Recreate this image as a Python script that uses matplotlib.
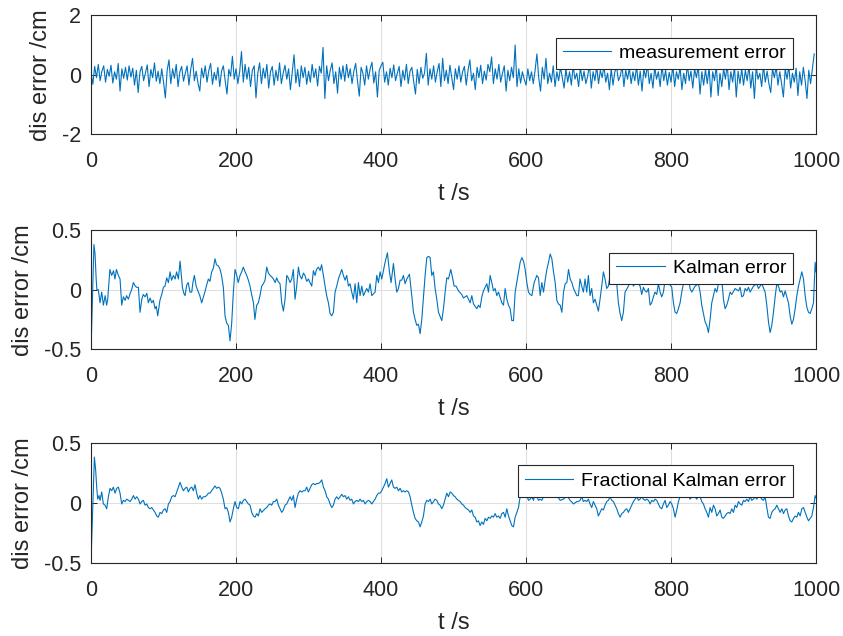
import numpy as np
import matplotlib
matplotlib.use('Agg')
import matplotlib.pyplot as plt

plt.rcParams['font.family'] = ['Liberation Sans', 'DejaVu Sans']

meas_e = [
    0.05, -0.32, 0.28, -0.1, 0.35, -0.2, 0.12, 0.3, -0.25, 0.18, -0.05, 0.32, -0.28, 0.1, -0.15, 0.38, -0.55, 0.2, -0.12, 0.25,
    -0.18, 0.3, -0.08, 0.22, -0.35, 0.15, -0.6, 0.1, 0.28, -0.2, 0.05, 0.33, -0.4, 0.18, -0.1, 0.4, -0.22, 0.12, -0.3, 0.2,
    -0.25, -0.78, 0.15, 0.5, -0.3, 0.2, -0.12, 0.35, -0.4, 0.1, 0.28, -0.22, 0.05, 0.3, -0.35, 0.18, 0.55, -0.2, 0.12, -0.28,
    -0.55, 0.22, -0.1, 0.3, -0.25, 0.15, 0.38, -0.32, 0.08, -0.18, 0.25, -0.4, 0.12, 0.3, -0.2, -0.65, 0.18, -0.05, 0.62, -0.15,
    0.2, -0.3, 0.1, 0.78, -0.25, 0.35, -0.15, 0.25, -0.4, 0.15, 0.3, -0.78, 0.05, 0.4, -0.3, 0.22, -0.12, 0.35, -0.45, 0.1,
    0.28, -0.35, 0.15, -0.2, 0.4, -0.3, 0.05, 0.32, -0.15, 0.2, -0.5, 0.1, 0.67, -0.28, 0.18, -0.4, 0.3, -0.1, 0.25, -0.32,
    0.12, -0.25, 0.35, -0.1, 0.2, -0.38, 0.28, 0.05, 0.92, -0.8, 0.3, -0.2, 0.15, 0.4, -0.3, 0.1, -0.62, 0.25, -0.15, 0.3,
    -0.22, 0.35, -0.1, 0.2, -0.3, 0.12, 0.38, -0.2, -0.72, 0.25, 0.05, -0.35, 0.3, -0.15, 0.2, 0.42, -0.28, 0.1, -0.75, 0.15,
    0.3, 0.42, -0.25, 0.1, -0.35, 0.22, -0.1, 0.33, -0.2, 0.05, 0.28, -0.4, 0.15, -0.18, 0.35, -0.3, 0.12, 0.25, -0.22, -0.65,
    0.18, -0.3, 0.25, -0.12, 0.05, 0.72, -0.35, 0.2, -0.15, 0.3, -0.25, 0.1, 0.38, -0.4, 0.55, -0.2, 0.15, -0.3, 0.32, -0.1,
    -0.5, 0.2, -0.15, 0.3, -0.25, 0.1, 0.28, -0.35, 0.15, 0.5, -0.2, 0.05, -0.5, 0.25, -0.1, 0.32, -0.3, 0.12, -0.18, 0.35,
    0.1, 0.6, -0.3, 0.2, -0.15, 0.35, -0.25, 0.05, 0.3, -0.55, 0.15, -0.2, 0.25, -0.1, 1.0, -0.4, 0.2, -0.28, 0.1, -0.15,
    -0.35, 0.2, -0.2, 0.1, -0.3, 0.15, 0.7, -0.1, -0.55, 0.25, -0.15, 0.55, -0.3, 0.05, -0.25, 0.3, -0.4, 0.1, -0.2, 0.25,
    -0.1, -0.45, 0.2, -0.25, 0.1, -0.35, 0.3, -0.15, 0.05, -0.4, 0.25, -0.2, 0.12, -0.3, -0.05, 0.35, -0.45, 0.1, -0.2, 0.28,
    -0.3, 0.15, -0.1, 0.3, -0.25, 0.05, -0.5, 0.2, -0.35, 0.1, 0.25, -0.2, -0.05, 0.3, -0.4, 0.15, -0.15, 0.22, -0.3, 0.1,
    -0.2, 0.28, -0.35, 0.12, -0.55, 0.2, -0.1, 0.35, -0.3, 0.05, -0.45, 0.25, -0.15, 0.1, -0.4, 0.3, -0.2, 0.15, -0.35, 0.08,
    -0.25, 0.3, -0.4, 0.1, -0.15, 0.25, -0.5, 0.05, -0.3, 0.35, -0.2, 0.12, -0.45, 0.2, -0.1, 0.3, -0.65, 0.1, -0.35, 0.18,
    -0.3, 0.25, -0.75, 0.1, -0.2, 0.3, -0.7, 0.05, -0.4, 0.2, -0.15, 0.35, -0.5, 0.1, -0.25, 0.28, -0.75, 0.12, -0.3, 0.2,
    -0.35, 0.15, -0.2, 0.3, -0.45, 0.1, -0.8, 0.25, -0.15, 0.05, -0.4, 0.3, -0.25, 0.12, -0.3, -0.6, 0.2, -0.1, 0.28, -0.35,
    0.1, -0.3, -0.75, 0.2, -0.15, 0.3, -0.45, 0.05, -0.25, 0.22, -0.7, 0.1, -0.35, 0.25, -0.2, -0.8, 0.15, -0.3, 0.2, 0.7,
]
meas_t = np.arange(len(meas_e)) * 2.5

# Kalman error
kal_t = [0, 0.5, 4, 5.5, 7, 8, 10, 12.4, 14.7, 17, 19.5, 21.5, 23, 26, 28.5, 31, 33, 35, 37.7, 40,
         42.3, 44.6, 47, 49, 51.5, 54, 56, 58.4, 61, 63, 65.3, 67.6, 70, 72, 74.5, 77, 79, 81.5, 83.7, 86,
         88.3, 90, 92, 95, 97.5, 99.8, 102, 104.4, 106.7, 109, 111, 113.6, 116, 118, 120.5, 122.8, 126, 128, 129.7, 132,
         134, 136.5, 138.9, 140.5, 142.5, 145, 148, 150, 152.6, 155, 157, 159.5, 161.8, 164, 166.4, 168.7, 171, 173, 175.6, 178,
         180, 182.5, 184.8, 187, 189.4, 191.7, 194, 196.3, 198.6, 201, 203, 205.5, 207.8, 210, 212.5, 214.7, 217, 219.3, 221.5, 224,
         226, 228.5, 230.8, 233, 235.4, 237.7, 240, 242.3, 244.6, 247, 249, 251.5, 254, 256, 258, 260.7, 263, 265.3, 267.6, 270,
         272, 274.5, 276.8, 279, 281.4, 283.7, 286, 288, 290.6, 293, 295, 297.5, 299.8, 302, 304.4, 306.7, 309, 311, 313.6, 316,
         318, 320.5, 322.8, 325, 327.4, 329.7,
         332.0, 334.3, 336.6, 338.9, 341.2, 345.8, 348.1, 350.4, 352.7, 355.0, 357.3, 359.6, 361.9, 364.2, 366.5, 368.8, 371.1, 373.4, 375.7, 380.3,
         382.6, 384.9, 387.2, 391.8, 394.1, 396.4, 398.7, 401.0, 403.3, 405.6, 408.8, 411.6, 413.9, 417.1, 419.4, 421.7, 424.0, 426.3, 428.6, 430.9,
         433.2, 435.5, 439.2, 442.4, 444.7, 447.0, 449.3, 451.6, 453.9, 456.2, 458.5, 460.8, 463.1, 465.4, 467.7, 470.0, 472.3, 474.6, 476.9, 479.2,
         483.8, 486.1, 488.4, 490.7, 493.0, 496.2, 499.0, 500.8, 503.6, 506.8, 511.4, 513.7, 518.3, 522.9, 525.2, 527.5, 532.1, 534.4, 536.7, 539.0,
         541.3, 543.6, 545.9, 548.2, 550.5, 552.8, 555.1, 557.4, 559.7, 562.0, 566.6, 568.9, 571.2, 573.5, 575.8, 578.1, 580.4, 582.7, 585.0, 589.6,
         591.9, 594.2, 596.5, 598.8, 601.1, 603.4, 605.7, 608.0, 611.2, 614.9, 617.2, 619.5, 621.8, 624.1, 626.4, 628.7, 631.0, 633.3, 635.6, 637.9,
         640.2, 642.5, 644.8, 647.1, 649.4, 651.7, 654.0, 656.3, 658.6, 660.9, 663.2, 665.5, 667.8, 670.1,
         672.2, 674.5, 676.8, 679.1, 681.4, 683.7, 686.0, 688.3, 690.6, 692.9, 695.2, 697.5, 699.8, 702.1, 704.4, 706.7, 709.0, 711.3, 713.6, 715.9,
         720.5, 725.1, 727.4, 729.7, 732.0, 734.3, 736.6, 741.2, 745.8, 748.1, 752.7, 757.3, 759.6, 761.9, 764.2, 766.5, 768.8, 771.1, 773.4, 775.7,
         778.0, 780.3, 782.6, 784.9, 787.2, 789.5, 791.8, 796.4, 801.0, 803.3, 805.6, 807.9, 810.2, 812.5, 814.8, 817.1, 824.0, 826.3, 828.6, 833.2,
         837.8, 840.1, 842.4, 844.7, 847.0, 849.3, 851.6, 853.9, 856.2, 860.8, 863.1, 865.4, 870.0, 872.3, 874.6, 876.9, 879.2, 881.5, 883.8, 888.4,
         893.0, 895.3, 897.6, 899.9, 902.2, 904.5, 906.8, 909.1, 913.7, 918.3, 920.6, 925.2, 929.8, 932.1, 934.4, 936.7, 939.0, 941.3, 943.6, 945.9,
         948.2, 950.5, 952.8, 955.1, 957.4, 962.0, 964.3, 966.6, 968.9, 971.2, 973.5, 975.8, 978.1, 980.4, 982.7, 985.0, 987.4, 989.6, 991.9, 994.2,
         996.5, 998.8, 1000]
kal_e = [-0.02, -0.39, 0.38, 0.30, 0.10, 0.0, 0.0, -0.11, -0.02, -0.13, -0.05, -0.13, -0.08, 0.17, 0.12, 0.16, 0.09, 0.17, 0.12, 0.09,
         -0.13, -0.06, -0.09, -0.05, -0.08, -0.03, 0.0, 0.06, 0.03, 0.02, 0.02, -0.19, -0.08, -0.04, -0.06, -0.03, -0.11, -0.07, -0.11, -0.09,
         -0.16, -0.14, -0.22, -0.09, -0.04, 0.02, 0.03, 0.10, 0.06, 0.15, 0.08, 0.12, 0.09, 0.15, 0.09, 0.24, 0.02, -0.03, -0.05, 0.04,
         0.06, -0.02, -0.02, 0.06, 0.12, 0.03, -0.02, -0.05, -0.11, -0.06, -0.02, 0.04, 0.09, 0.07, 0.15, 0.18, 0.26, 0.21, 0.20, 0.17,
         0.12, 0.02, -0.22, -0.28, -0.30, -0.43, -0.28, -0.02, 0.17, 0.12, 0.06, 0.12, 0.15, 0.19, 0.15, 0.12, 0.08, 0.03, -0.04, -0.11,
         -0.25, -0.13, -0.11, -0.05, 0.03, 0.05, 0.08, 0.19, 0.14, 0.12, 0.11, 0.09, 0.06, 0.10, 0.07, 0.05, -0.11, -0.18, -0.08, 0.12,
         0.10, 0.06, 0.09, 0.17, -0.08, 0.03, 0.19, 0.12, 0.09, 0.14, 0.12, 0.07, 0.09, 0.06, 0.03, 0.16, 0.12, 0.17, 0.19, 0.16,
         0.21, 0.12, 0.03, -0.05, -0.11, -0.20,
         -0.22, -0.19, -0.02, 0.03, 0.09, 0.17, 0.12, 0.08, 0.12, 0.03, 0.05, -0.02, -0.08, 0.05, -0.11, 0.06, -0.05, 0.03, -0.05, 0.01,
         -0.02, 0.05, -0.05, -0.02, 0.12, 0.06, 0.15, 0.09, 0.16, 0.23, 0.31, 0.15, 0.06, 0.22, 0.09, -0.02, 0.01, 0.08, 0.08, 0.12,
         0.05, 0.09, 0.13, -0.05, -0.19, -0.25, -0.30, -0.29, -0.37, -0.25, -0.06, 0.12, 0.27, 0.28, 0.27, 0.12, 0.15, 0.01, -0.08, -0.19,
         -0.26, -0.16, -0.02, 0.10, 0.09, 0.17, 0.09, 0.03, 0.03, -0.01, -0.04, -0.07, -0.05, -0.11, -0.05, -0.12, -0.16, -0.13, -0.15, -0.06,
         -0.01, 0.02, 0.05, -0.02, 0.12, 0.06, -0.01, 0.01, -0.05, -0.02, -0.11, -0.13, 0.01, -0.08, -0.13, -0.16, -0.26, -0.26, -0.02, 0.15,
         0.23, 0.27, 0.24, 0.17, 0.06, -0.02, -0.04, -0.05, 0.06, 0.12, 0.10, -0.05, 0.06, -0.02, 0.08, 0.17, 0.23, 0.30, 0.26, 0.15,
         0.06, -0.09, -0.12, -0.13, -0.19, -0.02, 0.05, 0.06, 0.17, 0.09, 0.06, 0.01, -0.02, -0.05,
         -0.05, 0.09, 0.03, -0.02, 0.09, -0.02, 0.12, -0.05, 0.01, -0.11, -0.08, -0.13, -0.18, -0.08, 0.03, 0.15, 0.09, 0.01, 0.03, 0.12,
         0.15, 0.05, -0.11, -0.20, -0.26, -0.19, -0.02, 0.03, 0.12, 0.03, 0.08, 0.03, -0.04, 0.02, -0.01, -0.02, 0.01, -0.13, -0.11, -0.06,
         -0.02, -0.04, 0.05, -0.02, -0.06, -0.02, 0.08, 0.06, 0.02, -0.11, -0.19, -0.20, -0.16, -0.11, -0.02, 0.05, 0.09, 0.01, -0.02, 0.03,
         0.05, -0.02, -0.13, -0.20, -0.27, -0.30, -0.36, -0.25, -0.11, 0.01, -0.02, 0.05, 0.09, -0.08, -0.16, -0.13, -0.08, -0.02, -0.04, 0.01,
         -0.01, 0.02, -0.06, -0.05, 0.01, -0.01, 0.02, -0.02, 0.03, 0.05, 0.01, 0.05, -0.02, -0.13, -0.27, -0.36, -0.30, -0.19, -0.06, 0.05,
         0.03, -0.02, -0.01, -0.06, -0.01, -0.11, -0.22, -0.29, -0.25, -0.16, -0.05, 0.03, 0.09, 0.15, 0.09, -0.05, -0.15, -0.19, -0.20, -0.16,
         -0.11, 0.23, 0.15]

# fractional Kalman error
frac_t = [0, 0.5, 4.6, 6.4, 7.8, 9.2, 11.0, 12.4, 14.7, 17.0, 19.3, 21.6, 23.9, 26.2, 28.5, 30.8, 33.1, 35.4, 37.7, 40.0,
          42.3, 44.6, 46.9, 49.2, 51.5, 53.8, 56.1, 58.4, 60.7, 63.0, 65.3, 67.6, 69.9, 72.2, 74.5, 76.8, 79.1, 81.4, 83.7, 86.0,
          88.3, 90.6, 92.9, 95.2, 97.5, 99.8, 102.1, 104.4, 106.7, 109.0, 111.3, 113.6, 115.9, 118.2, 120.5, 122.8, 125.1, 127.4, 129.7, 132.0,
          134.3, 136.6, 138.9, 141.1, 143.4, 145.7, 148.0, 150.3, 152.6, 154.9, 157.2, 159.5, 161.8, 164.1, 166.4, 168.7, 171.0, 173.3, 175.6, 177.9,
          180.2, 182.5, 184.8, 187.1, 189.4, 191.7, 194.0, 196.3, 198.6, 200.9, 203.2, 205.5, 207.8, 210.1, 212.4, 214.7, 217.0, 219.3, 221.6, 223.9,
          226.2, 228.5, 230.8, 233.1, 235.4, 240.0, 242.3, 244.6, 246.9, 249.2, 251.5, 253.8, 256.1, 258.4, 260.7, 263.0, 265.3, 267.6, 269.9, 272.2,
          274.5, 276.8, 279.1, 281.4, 283.7, 286.0, 288.3, 290.6, 292.9, 295.2, 297.5, 299.8, 302.1, 304.4, 306.7, 309.0, 311.3, 313.6, 315.9, 318.2,
          320.5, 322.8, 325.1, 327.4, 329.7, 332.0, 334.3,
          336.6, 338.9, 341.2, 343.5, 345.8, 348.1, 350.4, 352.7, 355.0, 357.3, 359.6, 361.9, 364.2, 366.5, 368.8, 371.1, 373.4, 375.7, 378.0, 380.3,
          382.6, 384.9, 387.2, 389.5, 391.8, 394.1, 396.4, 398.7, 401.0, 403.3, 405.6, 407.9, 410.2, 412.5, 414.8, 417.1, 419.4, 421.7, 424.0, 426.3,
          428.6, 430.9, 433.2, 435.5, 437.8, 440.1, 442.4, 444.7, 447.0, 449.3, 451.6, 453.9, 456.2, 458.5, 460.8, 463.1, 465.4, 467.7, 470.0, 472.3,
          474.6, 476.9, 479.2, 481.5, 483.8, 486.1, 488.4, 490.7, 493.0, 495.3, 497.6, 499.9, 502.2, 504.5, 506.8, 509.1, 511.4, 513.7, 516.0, 518.3,
          520.6, 522.9, 525.2, 527.5, 529.8, 532.1, 534.4, 536.7, 539.0, 541.3, 543.6, 545.9, 548.2, 550.5, 552.8, 555.1, 557.4, 559.7, 562.0, 564.3,
          566.6, 568.9, 571.2, 573.5, 575.8, 578.1, 580.4, 582.7, 585.0, 587.3, 589.6, 591.9, 594.2, 596.5, 598.8, 601.1, 603.4, 605.7, 608.0, 610.3,
          612.6, 614.9, 617.2, 619.5, 621.8, 624.1, 626.4, 633.3, 642.5, 647.1, 651.7, 656.3, 660.9, 665.5, 670.1,
          672.2, 674.5, 676.8, 679.1, 681.4, 683.7, 686.0, 688.3, 690.6, 692.9, 695.2, 697.5, 699.8, 702.1, 704.4, 706.7, 709.0, 711.3, 713.6, 715.9,
          718.2, 720.5, 722.8, 725.1, 727.4, 729.7, 732.0, 734.3, 736.6, 738.9, 741.2, 743.5, 745.8, 748.1, 750.4, 752.7, 755.0, 757.3, 759.6, 761.9,
          764.2, 766.5, 768.8, 771.1, 773.4, 775.7, 778.0, 780.3, 782.6, 784.9, 787.2, 789.5, 791.8, 794.1, 796.4, 798.7, 801.0, 803.3, 805.6, 807.9,
          810.2, 812.5, 814.8, 817.1, 819.4, 821.7, 824.0, 826.3, 828.6, 830.9, 833.2, 835.5, 837.8, 840.1, 842.4, 844.7, 847.0, 849.3, 851.6, 853.9,
          856.2, 858.5, 860.8, 863.1, 865.4, 867.7, 870.0, 872.3, 874.6, 876.9, 879.2, 881.5, 883.8, 886.1, 888.4, 890.7, 893.0, 895.3, 897.6, 899.9,
          902.2, 904.5, 906.8, 909.1, 911.4, 913.7, 916.0, 918.3, 920.6, 922.9, 925.2, 927.5, 929.8, 932.1, 934.4, 936.7, 939.0, 941.3, 943.6, 945.9,
          948.2, 950.5, 952.8, 955.1, 957.4, 959.7, 962.0, 964.3, 966.6, 968.9, 971.2, 973.5, 975.8, 978.1, 980.4, 982.7, 985.0, 987.4, 989.6, 991.9,
          994.2, 996.5, 998.8, 1000]
frac_e = [0.0, -0.39, 0.38, 0.27, 0.13, 0.03, 0.06, 0.02, 0.09, -0.01, -0.02, -0.05, 0.05, 0.12, 0.10, 0.13, 0.08, 0.12, 0.13, 0.08,
          -0.01, 0.02, 0.01, 0.03, 0.02, 0.01, 0.03, 0.06, 0.03, 0.05, 0.03, -0.01, 0.01, 0.02, -0.02, -0.01, -0.04, -0.05, -0.04, -0.06,
          -0.08, -0.11, -0.12, -0.08, -0.09, -0.06, -0.05, -0.08, -0.01, 0.01, 0.05, 0.06, 0.05, 0.09, 0.13, 0.17, 0.13, 0.10, 0.12, 0.13,
          0.09, 0.12, 0.13, 0.10, 0.15, 0.08, 0.03, 0.06, 0.03, 0.05, 0.05, 0.06, 0.08, 0.08, 0.10, 0.12, 0.14, 0.12, 0.13, 0.12,
          0.08, 0.03, -0.05, -0.04, -0.08, -0.16, -0.12, -0.05, 0.01, -0.04, -0.05, 0.01, -0.01, 0.02, 0.03, 0.01, -0.01, -0.02, -0.08, -0.11,
          -0.12, -0.09, -0.11, -0.05, -0.08, -0.05, -0.04, -0.02, -0.01, -0.02, 0.01, 0.01, 0.03, -0.02, -0.05, -0.08, -0.06, -0.02, -0.01, 0.02,
          0.05, 0.02, 0.06, -0.04, 0.03, 0.08, 0.10, 0.09, 0.10, 0.10, 0.13, 0.09, 0.12, 0.15, 0.16, 0.15, 0.16, 0.16, 0.17, 0.19,
          0.13, 0.10, 0.05, 0.03, -0.01, -0.04, -0.02,
          0.03, 0.05, 0.03, 0.05, 0.07, 0.05, 0.06, 0.03, 0.05, 0.02, 0.03, -0.01, 0.01, 0.02, 0.01, 0.03, 0.01, 0.02, -0.01, 0.01,
          0.02, 0.01, -0.01, 0.01, 0.03, 0.06, 0.08, 0.08, 0.10, 0.13, 0.16, 0.20, 0.13, 0.16, 0.19, 0.13, 0.12, 0.13, 0.10, 0.12,
          0.09, 0.10, 0.09, 0.10, 0.09, 0.05, -0.02, -0.08, -0.13, -0.15, -0.16, -0.20, -0.16, -0.11, -0.01, 0.02, 0.01, 0.03, -0.01, 0.01,
          0.03, 0.02, -0.01, -0.02, -0.05, -0.02, 0.03, 0.08, 0.05, 0.09, 0.08, 0.06, 0.05, 0.03, 0.02, 0.01, -0.01, -0.02, -0.04, -0.05,
          -0.06, -0.08, -0.06, -0.11, -0.12, -0.16, -0.15, -0.19, -0.16, -0.18, -0.13, -0.15, -0.12, -0.13, -0.11, -0.12, -0.09, -0.12, -0.11, -0.13,
          -0.09, -0.08, -0.12, -0.05, -0.11, -0.15, -0.19, -0.20, -0.12, -0.08, -0.04, 0.05, 0.06, 0.09, 0.08, 0.06, 0.02, 0.03, 0.05, 0.02,
          0.08, 0.05, 0.02, 0.03, 0.02, 0.05, 0.08, 0.09, 0.06, 0.02, 0.03, 0.06, 0.02, -0.01, 0.01,
          0.01, 0.02, 0.05, 0.01, 0.02, 0.01, 0.03, -0.01, -0.04, 0.01, -0.02, -0.05, -0.11, -0.08, -0.05, -0.06, -0.02, 0.01, 0.02, 0.05,
          0.02, 0.01, -0.02, -0.05, -0.09, -0.12, -0.09, -0.08, -0.06, -0.05, -0.08, -0.05, -0.02, 0.01, 0.03, 0.05, 0.02, 0.03, 0.05, 0.03,
          0.02, 0.03, 0.02, -0.01, 0.02, 0.01, 0.03, 0.02, -0.01, -0.04, -0.05, -0.01, 0.02, -0.04, -0.02, 0.01, -0.01, -0.05, -0.12, -0.06,
          0.01, 0.05, 0.06, 0.08, 0.06, 0.05, 0.06, 0.03, 0.05, 0.06, 0.05, 0.03, 0.06, 0.05, 0.01, -0.01, -0.05, -0.08, -0.12, -0.04,
          -0.08, -0.02, -0.05, -0.11, -0.09, -0.06, -0.12, -0.13, -0.11, -0.09, -0.08, -0.09, -0.05, -0.08, -0.02, -0.04, 0.01, -0.01, -0.02, 0.02,
          0.01, 0.03, 0.01, 0.05, 0.02, 0.03, 0.05, 0.03, 0.06, 0.05, 0.03, 0.02, 0.05, -0.04, -0.12, -0.13, -0.08, -0.06, -0.05, -0.02,
          -0.05, -0.08, -0.05, -0.09, -0.06, -0.05, -0.11, -0.15, -0.16, -0.13, -0.11, -0.12, -0.08, -0.11, -0.05, -0.04, -0.08, -0.12, -0.15, -0.13,
          -0.11, -0.04, 0.06, 0.04]

xticks = [0, 200, 400, 600, 800, 1000]
panels = [
    (meas_t, meas_e, 'measurement error', [-2, 0, 2], (0.108, 0.789, 0.860, 0.187)),
    (kal_t, kal_e, 'Kalman error', [-0.5, 0, 0.5], (0.108, 0.451, 0.860, 0.187)),
    (frac_t, frac_e, 'Fractional Kalman error', [-0.5, 0, 0.5], (0.108, 0.115, 0.860, 0.189)),
]

blue = '#0072BD'
dark = '#262626'

fig = plt.figure(figsize=(8.43, 6.36), dpi=100)
for t, e, name, yt, pos in panels:
    ax = fig.add_axes(pos)
    ax.plot(t, e, color=blue, lw=0.8, label=name)
    ax.set_xlim(0, 1000)
    ax.set_ylim(yt[0], yt[-1])
    ax.set_xticks(xticks)
    ax.set_yticks(yt)
    ax.set_yticklabels(['%g' % v for v in yt])
    ax.grid(True, color='#dfdfdf', lw=0.8)
    ax.set_axisbelow(True)
    ax.tick_params(direction='in', top=True, right=True, labelsize=15.5,
                   colors=dark, width=0.7, length=4)
    ax.tick_params(axis='x', pad=12)
    ax.tick_params(axis='y', pad=7)
    for s in ax.spines.values():
        s.set_color(dark)
        s.set_linewidth(0.8)
    ax.set_xlabel('t /s', fontsize=17, color=dark, labelpad=8)
    ax.set_ylabel('dis error /cm', fontsize=17, color=dark, labelpad=7)
    leg = ax.legend(loc='upper right', bbox_to_anchor=(0.968, 0.81), borderaxespad=0,
                    fontsize=14, fancybox=False, framealpha=1, edgecolor=dark,
                    handlelength=2.5, handletextpad=0.4, borderpad=0.35)
    leg.get_frame().set_linewidth(0.8)

fig.savefig('out.png', dpi=100)
